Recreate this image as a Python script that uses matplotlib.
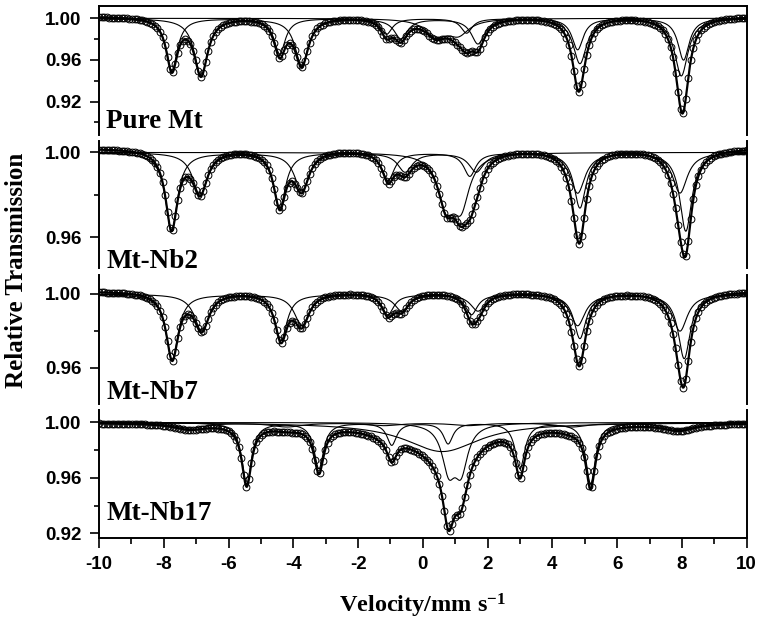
import numpy as np
import matplotlib
matplotlib.use("Agg")
import matplotlib.pyplot as plt
from matplotlib.ticker import MultipleLocator, FixedLocator, FormatStrFormatter

plt.rcParams["axes.unicode_minus"] = False
plt.rcParams["mathtext.fontset"] = "custom"
plt.rcParams["mathtext.rm"] = "Liberation Serif:bold"
plt.rcParams["mathtext.bf"] = "Liberation Serif:bold"
plt.rcParams["mathtext.it"] = "Liberation Serif:bold"

# ---------------- data ----------------
panel_names = ["Pure Mt", "Mt-Nb2", "Mt-Nb7", "Mt-Nb17"]
velocity_major = [-10, -8, -6, -4, -2, 0, 2, 4, 6, 8, 10]

# Pure Mt : two magnetite sextets + weak central doublet
pure_A_pos = [-7.75, -4.42, -1.12, 1.35, 4.78, 8.05]
pure_A_depth = [0.050, 0.034, 0.015, 0.014, 0.030, 0.040]
pure_A_width = 0.42
pure_B_pos = [-6.85, -3.74, -0.68, 1.70, 4.85, 7.98]
pure_B_depth = [0.055, 0.045, 0.019, 0.024, 0.043, 0.055]
pure_B_width = 0.50
pure_C_pos = [0.40, 1.10]
pure_C_depth = [0.016, 0.014]
pure_C_width = 0.80
pure_baseline = 1.002

# Mt-Nb2
nb2_A_pos = [-7.76, -4.42, -1.07, 1.45, 4.85, 8.12]
nb2_A_depth = [0.037, 0.026, 0.013, 0.011, 0.026, 0.037]
nb2_A_width = 0.45
nb2_B_pos = [-6.88, -3.74, -0.55, 1.65, 4.78, 7.94]
nb2_B_depth = [0.020, 0.018, 0.009, 0.009, 0.019, 0.019]
nb2_B_width = 0.55
nb2_D_pos = [0.72, 1.18]
nb2_D_depth = [0.0225, 0.0225]
nb2_D_width = 0.62
nb2_baseline = 1.002

# Mt-Nb7
nb7_A_pos = [-7.74, -4.38, -1.08, 1.50, 4.85, 8.07]
nb7_A_depth = [0.036, 0.025, 0.011, 0.011, 0.024, 0.035]
nb7_A_width = 0.45
nb7_B_pos = [-6.83, -3.74, -0.65, 1.70, 4.78, 7.94]
nb7_B_depth = [0.020, 0.017, 0.009, 0.009, 0.017, 0.020]
nb7_B_width = 0.55
nb7_baseline = 1.0015

# Mt-Nb17 : alpha-Fe sextet, central doublet, broad line, weak broad sextet
nb17_Fe_pos = [-5.44, -3.21, -0.96, 0.78, 3.00, 5.18]
nb17_Fe_depth = [0.044, 0.033, 0.016, 0.015, 0.033, 0.044]
nb17_Fe_width = 0.36
nb17_D_pos = [0.80, 1.18]
nb17_D_depth = [0.0315, 0.0315]
nb17_D_width = 0.50
nb17_broad_pos = [0.60]
nb17_broad_depth = [0.021]
nb17_broad_width = 2.8
nb17_S_pos = [-7.2, -4.2, -1.2, 1.4, 4.6, 7.9]
nb17_S_depth = [0.004, 0.003, 0.002, 0.002, 0.003, 0.005]
nb17_S_width = 1.2
nb17_baseline = 1.000

# y-axis set-up per panel
ylims = [(0.888, 1.0118), (0.9454, 1.0055), (0.9401, 1.0103), (0.9164, 1.009)]
ymajor = [[0.92, 0.96, 1.00], [0.96, 1.00], [0.96, 1.00], [0.92, 0.96, 1.00]]
yminor = [[0.90, 0.94, 0.98], [0.98], [0.98], [0.94, 0.98]]

panels = [
    dict(base=pure_baseline,
         comps=[(pure_A_pos, pure_A_depth, pure_A_width),
                (pure_B_pos, pure_B_depth, pure_B_width),
                (pure_C_pos, pure_C_depth, pure_C_width)]),
    dict(base=nb2_baseline,
         comps=[(nb2_A_pos, nb2_A_depth, nb2_A_width),
                (nb2_B_pos, nb2_B_depth, nb2_B_width),
                (nb2_D_pos, nb2_D_depth, nb2_D_width)]),
    dict(base=nb7_baseline,
         comps=[(nb7_A_pos, nb7_A_depth, nb7_A_width),
                (nb7_B_pos, nb7_B_depth, nb7_B_width)]),
    dict(base=nb17_baseline,
         comps=[(nb17_Fe_pos, nb17_Fe_depth, nb17_Fe_width),
                (nb17_D_pos, nb17_D_depth, nb17_D_width),
                (nb17_broad_pos, nb17_broad_depth, nb17_broad_width),
                (nb17_S_pos, nb17_S_depth, nb17_S_width)]),
]


def absorption(v, pos, depth, width):
    hw = width / 2.0
    out = np.zeros_like(v)
    for p, d in zip(pos, depth):
        out += d / (1.0 + ((v - p) / hw) ** 2)
    return out


# ---------------- figure ----------------
fig = plt.figure(figsize=(7.59, 6.20), dpi=100)
left, right = 99 / 759, 746.7 / 759
tops = [6, 140.7, 275, 410]
bottoms = [135, 268.3, 404.3, 538.3]
label_y = [0.057, 0.0, 0.039, 0.14]

channels = np.linspace(-10, 10, 256)
fine = np.linspace(-10, 10, 1200)

serif = ["Liberation Serif", "DejaVu Serif"]
sans = ["Liberation Sans", "DejaVu Sans"]

for i, pan in enumerate(panels):
    y0 = 1 - bottoms[i] / 620
    h = (bottoms[i] - tops[i]) / 620
    ax = fig.add_axes([left, y0, right - left, h])

    total_fine = pan["base"] - sum(absorption(fine, *c) for c in pan["comps"])
    total_ch = pan["base"] - sum(absorption(channels, *c) for c in pan["comps"])

    ax.plot(channels, total_ch, "o", ms=4.9, mfc="none", mec="black", mew=0.7, zorder=2)
    for c in pan["comps"]:
        ax.plot(fine, 1.0 - absorption(fine, *c), color="black", lw=0.8, zorder=3)
    ax.plot(fine, total_fine, color="black", lw=1.6, zorder=4)

    ax.set_xlim(-10, 10)
    ax.set_ylim(*ylims[i])
    ax.yaxis.set_major_locator(FixedLocator(ymajor[i]))
    ax.yaxis.set_minor_locator(FixedLocator(yminor[i]))
    ax.yaxis.set_major_formatter(FormatStrFormatter("%.2f"))
    ax.xaxis.set_major_locator(FixedLocator(velocity_major))
    ax.xaxis.set_minor_locator(MultipleLocator(1))

    for s in ax.spines.values():
        s.set_linewidth(1.4)
    ax.spines["top"].set_visible(i == 0)
    ax.spines["bottom"].set_visible(i == 3)

    ax.tick_params(axis="y", which="major", direction="out", length=6.8, width=1.2,
                   pad=6, labelsize=13.5, right=False)
    ax.tick_params(axis="y", which="minor", direction="out", length=3.5, width=1.2, right=False)
    if i == 3:
        ax.tick_params(axis="x", which="major", direction="out", length=7, width=1.2,
                       pad=6, labelsize=13.5, top=False)
        ax.tick_params(axis="x", which="minor", direction="out", length=4, width=1.2, top=False)
    else:
        ax.tick_params(axis="x", which="both", bottom=False, top=False, labelbottom=False)
    for lab in ax.get_yticklabels() + ax.get_xticklabels():
        lab.set_fontfamily(sans)
        lab.set_fontweight("bold")

    ax.text(0.011, label_y[i], panel_names[i], transform=ax.transAxes,
            ha="left", va="baseline", fontsize=19.5, fontweight="bold", family=serif)

fig.text(0.022, 1 - 270 / 620, "Relative Transmission", rotation=90,
         ha="center", va="center", fontsize=18, fontweight="bold", family=serif)
fig.text(0.557, 1 - 612 / 620, r"Velocity/mm s$^{\mathbf{-1}}$",
         ha="center", va="baseline", fontsize=17.5, fontweight="bold", family=serif)

fig.savefig("out.png", dpi=100)
